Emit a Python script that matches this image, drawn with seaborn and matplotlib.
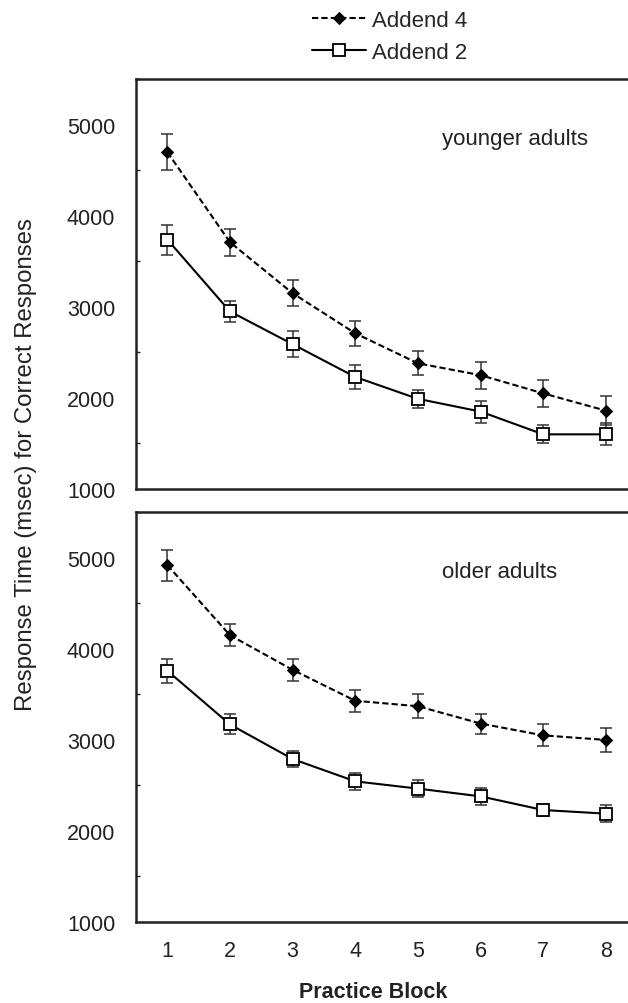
import numpy as np
import pandas as pd
import seaborn as sns
import matplotlib.pyplot as plt
from matplotlib.ticker import MultipleLocator

blocks = [1, 2, 3, 4, 5, 6, 7, 8]

# younger adults
young_add4 = [4700, 3710, 3150, 2710, 2380, 2250, 2050, 1860]
young_add4_err = [195, 150, 140, 140, 130, 150, 150, 160]
young_add2 = [3740, 2950, 2590, 2230, 1990, 1850, 1600, 1600]
young_add2_err = [165, 120, 140, 130, 100, 120, 100, 120]

# older adults
old_add4 = [4920, 4150, 3770, 3430, 3370, 3180, 3050, 3000]
old_add4_err = [170, 120, 120, 120, 130, 110, 120, 130]
old_add2 = [3760, 3170, 2790, 2545, 2465, 2380, 2230, 2190]
old_add2_err = [130, 110, 90, 90, 90, 95, 65, 95]

rows = []
for grp, a4, e4, a2, e2 in [('younger adults', young_add4, young_add4_err, young_add2, young_add2_err),
                            ('older adults', old_add4, old_add4_err, old_add2, old_add2_err)]:
    for b, v, e in zip(blocks, a4, e4):
        rows.append((grp, 'Addend 4', b, v, e))
    for b, v, e in zip(blocks, a2, e2):
        rows.append((grp, 'Addend 2', b, v, e))
df = pd.DataFrame(rows, columns=['group', 'addend', 'block', 'rt', 'se'])

sns.set_style('white')
plt.rcParams['font.family'] = ['Liberation Sans', 'DejaVu Sans']

fig = plt.figure(figsize=(6.28, 10.04), dpi=100)
ax_top = fig.add_axes([0.2166, 0.512, 0.798, 0.408])
ax_bot = fig.add_axes([0.2166, 0.0807, 0.798, 0.408])

styles = {
    'Addend 4': dict(linestyle=(0, (3, 1.5)), marker='D', markersize=6, markerfacecolor='black',
                     markeredgecolor='black', zorder=3),
    'Addend 2': dict(linestyle='-', marker='s', markersize=9, markerfacecolor='white',
                     markeredgecolor='black', markeredgewidth=1.3, zorder=4),
}

for ax, grp in [(ax_top, 'younger adults'), (ax_bot, 'older adults')]:
    sub = df[df['group'] == grp]
    for name in ['Addend 4', 'Addend 2']:
        s = sub[sub['addend'] == name]
        ax.errorbar(s['block'], s['rt'], yerr=s['se'], fmt='none', ecolor='#333333',
                    elinewidth=1.1, capsize=4, capthick=1.1, zorder=2)
        sns.lineplot(data=s, x='block', y='rt', ax=ax, color='black', linewidth=1.5,
                     label=name, legend=False, **styles[name])
    ax.set_xlim(0.5, 8.5)
    ax.set_ylim(1000, 5500)
    ax.set_yticks([1000, 2000, 3000, 4000, 5000])
    ax.yaxis.set_minor_locator(MultipleLocator(500))
    ax.tick_params(axis='y', which='major', direction='in', length=5, width=1, labelsize=15.5,
                   pad=15, labelcolor='#222222')
    ax.tick_params(axis='y', which='minor', direction='in', length=3, width=1, left=True)
    ax.tick_params(axis='x', length=0, labelsize=15.5, pad=13, labelcolor='#222222')
    ax.set_xlabel('')
    ax.set_ylabel('')
    for sp in ax.spines.values():
        sp.set_color('#222222')
        sp.set_linewidth(1.8)
    ax.text(0.611, 0.855, grp, transform=ax.transAxes,
            fontsize=16, color='#222222', ha='left', va='center')

ax_top.set_xticks(blocks)
ax_top.set_xticklabels([])
ax_bot.set_xticks(blocks)
ax_bot.set_xticklabels([str(b) for b in blocks])

fig.text(0.042, 0.537, 'Response Time (msec) for Correct Responses', rotation=90,
         fontsize=17.3, ha='center', va='center', color='#222222')
fig.text(0.595, 0.011, 'Practice Block', fontsize=15.5, fontweight='bold',
         ha='center', va='center', color='#222222')

handles, labels = ax_top.get_legend_handles_labels()
fig.legend(handles, labels, loc='upper center', bbox_to_anchor=(0.621, 1.009), frameon=False,
           fontsize=16, handlelength=2.4, handletextpad=0.3, labelspacing=0.5)

fig.savefig('out.png', dpi=100, facecolor='white')
